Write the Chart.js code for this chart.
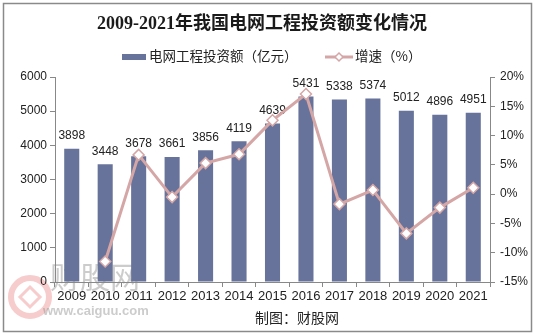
<!DOCTYPE html>
<html>
<head>
<meta charset="utf-8">
<script src="https://cdn.jsdelivr.net/npm/chart.js@4"></script>
<style>
  html, body { margin: 0; padding: 0; background: #fff; }
  #wrap { position: relative; width: 535px; height: 336px; }
</style>
</head>
<body>
<div id="wrap"><canvas id="chart" width="535" height="336"></canvas></div>
<script>
const years = ["2009", "2010", "2011", "2012", "2013", "2014", "2015", "2016", "2017", "2018", "2019", "2020", "2021"];
const investment = [3898, 3448, 3678, 3661, 3856, 4119, 4639, 5431, 5338, 5374, 5012, 4896, 4951];
const growth = [null, -11.5, 6.7, -0.5, 5.3, 6.8, 12.6, 17.1, -1.7, 0.7, -6.7, -2.3, 1.1];
const leftTicks = [0, 1000, 2000, 3000, 4000, 5000, 6000];
const rightTicks = [-15, -10, -5, 0, 5, 10, 15, 20];

const barColor = "#67739a";
const lineColor = "#d5a6a6";
const tickFont = { family: "'Liberation Sans', Arial, sans-serif", size: 12 };
const cjk = "'Noto Sans CJK SC', sans-serif";

const decorPlugin = {
  id: "decor",
  beforeDraw(chart) {
    const ctx = chart.ctx;
    ctx.save();
    ctx.fillStyle = "#fff";
    ctx.fillRect(0, 0, chart.width, chart.height);

    // watermark, behind everything else
    ctx.globalAlpha = 0.5;
    ctx.strokeStyle = "#ee9a9a";
    ctx.lineWidth = 6;
    ctx.beginPath();
    ctx.arc(30, 297, 19, 0, Math.PI * 2);
    ctx.stroke();
    ctx.lineWidth = 3;
    ctx.beginPath();
    ctx.moveTo(30, 287);
    ctx.lineTo(40, 297);
    ctx.lineTo(30, 307);
    ctx.lineTo(20, 297);
    ctx.closePath();
    ctx.stroke();
    ctx.fillStyle = "#999";
    ctx.textBaseline = "middle";
    ctx.font = "30px 'Liberation Serif', " + cjk;
    ctx.fillText("财股网", 50, 280);
    ctx.font = "bold 13px 'Liberation Sans', Arial, sans-serif";
    ctx.fillText("www.caiguu.com", 43, 311);
    ctx.restore();
  },
  afterDatasetDraw(chart, args) {
    if (args.index !== 1) {
      return;
    }
    const ctx = chart.ctx;
    ctx.save();
    ctx.font = "12px 'Liberation Sans', Arial, sans-serif";
    ctx.fillStyle = "#222";
    ctx.textAlign = "center";
    ctx.textBaseline = "bottom";
    args.meta.data.forEach((bar, i) => {
      ctx.fillText(String(investment[i]), bar.x, bar.y - 7);
    });
    ctx.restore();
  },
  afterDraw(chart) {
    const ctx = chart.ctx;
    ctx.save();

    // title
    ctx.fillStyle = "#1a1a1a";
    ctx.textAlign = "center";
    ctx.textBaseline = "middle";
    ctx.font = "bold 18px 'Liberation Serif', " + cjk;
    ctx.fillText("2009-2021年我国电网工程投资额变化情况", 262, 24);

    // legend
    ctx.textAlign = "left";
    ctx.font = "13.5px " + cjk;
    ctx.fillStyle = barColor;
    ctx.fillRect(122, 54, 24, 6);
    ctx.fillStyle = "#222";
    ctx.fillText("电网工程投资额（亿元）", 149, 56);

    ctx.strokeStyle = lineColor;
    ctx.lineWidth = 3;
    ctx.beginPath();
    ctx.moveTo(325, 57);
    ctx.lineTo(353, 57);
    ctx.stroke();
    ctx.fillStyle = "#fff";
    ctx.lineWidth = 1.5;
    ctx.beginPath();
    ctx.moveTo(339, 53);
    ctx.lineTo(343, 57);
    ctx.lineTo(339, 61);
    ctx.lineTo(335, 57);
    ctx.closePath();
    ctx.fill();
    ctx.stroke();
    ctx.fillStyle = "#222";
    ctx.fillText("增速（%）", 355, 56);

    // source
    ctx.font = "14px " + cjk;
    ctx.fillText("制图：财股网", 255, 318);

    // frame
    ctx.strokeStyle = "#8a8a8a";
    ctx.lineWidth = 1.5;
    ctx.strokeRect(3.5, 3.5, 528, 328);
    ctx.restore();
  }
};

new Chart(document.getElementById("chart"), {
  data: {
    labels: years,
    datasets: [
      {
        type: "line",
        label: "增速（%）",
        data: growth,
        yAxisID: "y1",
        order: 0,
        borderColor: lineColor,
        borderWidth: 3,
        pointStyle: "rectRot",
        pointRadius: 5.5,
        pointBackgroundColor: "#fff",
        pointBorderColor: lineColor,
        pointBorderWidth: 1.5,
        tension: 0
      },
      {
        type: "bar",
        label: "电网工程投资额（亿元）",
        data: investment,
        yAxisID: "y",
        order: 1,
        backgroundColor: barColor,
        barPercentage: 0.45,
        categoryPercentage: 1
      }
    ]
  },
  options: {
    responsive: false,
    animation: false,
    layout: {
      padding: { top: 77, bottom: 24, left: 0, right: 0 }
    },
    plugins: {
      legend: { display: false },
      title: { display: false },
      tooltip: { enabled: false }
    },
    scales: {
      x: {
        offset: true,
        grid: {
          offset: true,
          drawOnChartArea: false,
          drawTicks: true,
          tickLength: 5,
          color: "#888"
        },
        border: { color: "#888" },
        ticks: {
          color: "#222",
          font: { ...tickFont, size: 13 },
          padding: 2,
          maxRotation: 0,
          minRotation: 0,
          autoSkip: false
        },
        afterFit(scale) {
          scale.height = 30;
        }
      },
      y: {
        position: "left",
        min: 0,
        max: 6000,
        afterBuildTicks(scale) {
          scale.ticks = leftTicks.map((value) => ({ value }));
        },
        grid: { drawOnChartArea: false, tickLength: 5, color: "#888" },
        border: { color: "#888" },
        ticks: { color: "#222", font: tickFont, padding: 3, callback: (value) => String(value) },
        afterFit(scale) {
          scale.width = 55;
        }
      },
      y1: {
        position: "right",
        min: -15,
        max: 20,
        afterBuildTicks(scale) {
          scale.ticks = rightTicks.map((value) => ({ value }));
        },
        grid: { drawOnChartArea: false, tickLength: 5, color: "#888" },
        border: { color: "#888" },
        ticks: {
          color: "#222",
          font: tickFont,
          padding: 5,
          callback: (value) => value + "%"
        },
        afterFit(scale) {
          scale.width = 45;
        }
      }
    }
  },
  plugins: [decorPlugin]
});
</script>
</body>
</html>
